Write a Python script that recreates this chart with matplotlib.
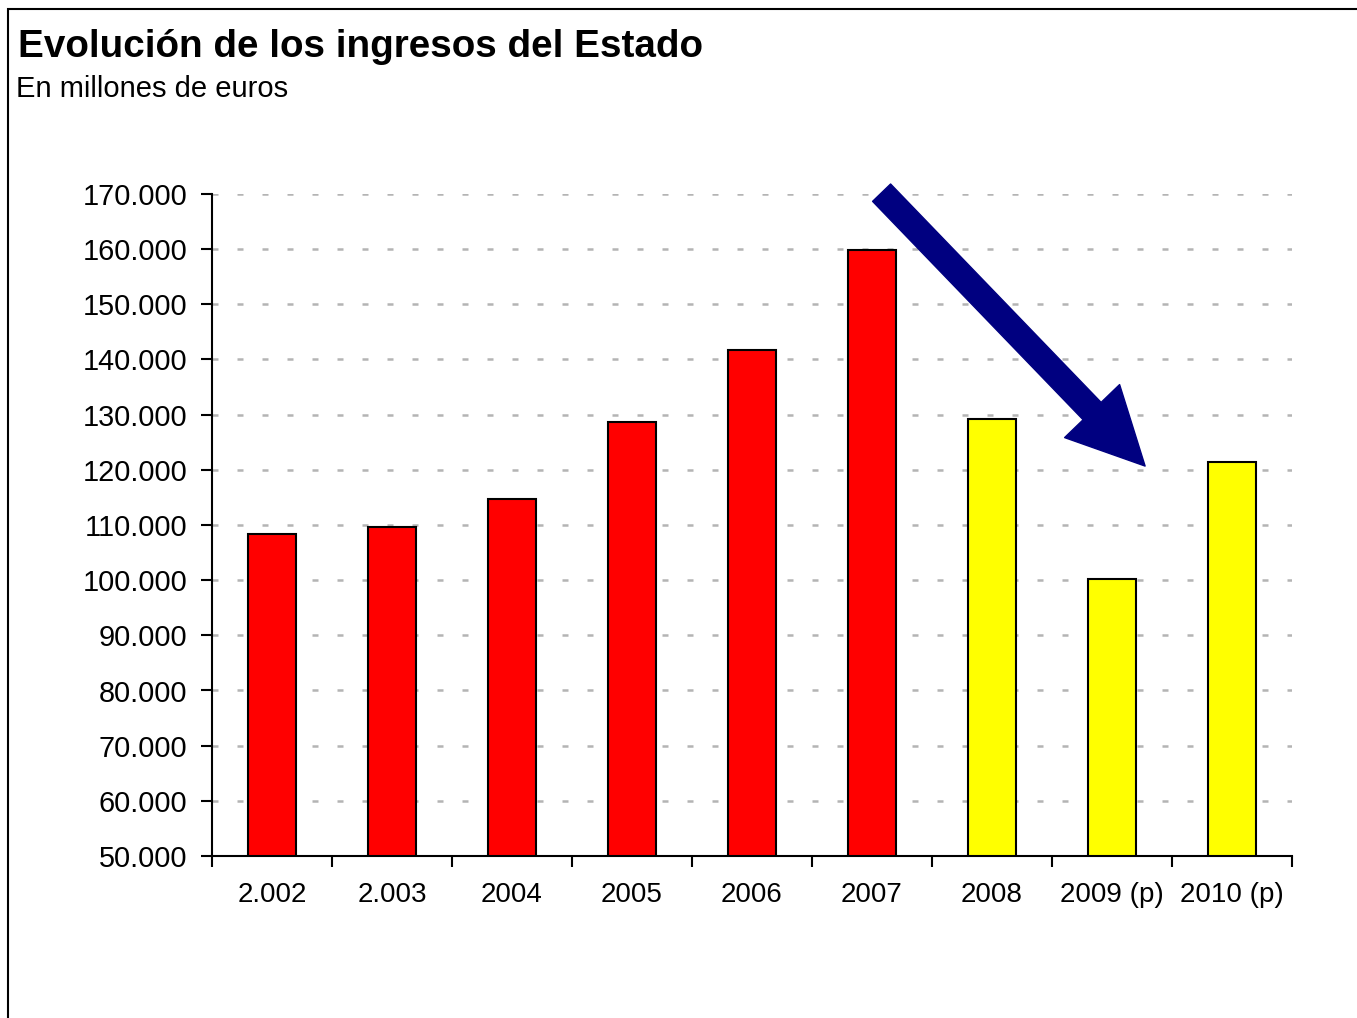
import matplotlib
matplotlib.use("Agg")
import matplotlib.pyplot as plt
import matplotlib.patches as mpatches
from matplotlib.ticker import FuncFormatter, FixedLocator

plt.rcParams['font.family'] = ['Liberation Sans', 'DejaVu Sans']

years = ["2.002", "2.003", "2004", "2005", "2006", "2007", "2008", "2009 (p)", "2010 (p)"]
ingresos = [108400, 109600, 114700, 128700, 141700, 159800, 129200, 100200, 121400]
colores = ["#ff0000"] * 6 + ["#ffff00"] * 3

fig = plt.figure(figsize=(13.57, 10.18), dpi=100)
ax = fig.add_axes([212 / 1357, 1 - 856 / 1018, 1080 / 1357, 662 / 1018])

pos = list(range(len(years)))
ax.bar(pos, [v - 50000 for v in ingresos], bottom=50000, width=0.4,
       color=colores, edgecolor="black", linewidth=1.5, zorder=3)

ax.set_xlim(-0.5, len(years) - 0.5)
ax.set_ylim(50000, 170000)
ax.set_yticks(range(50000, 170001, 10000))
ax.yaxis.set_major_formatter(FuncFormatter(lambda v, p: f"{int(v):,}".replace(",", ".")))

# category boundaries as ticks, labels centered
ax.xaxis.set_major_locator(FixedLocator([i - 0.5 for i in range(len(years) + 1)]))
ax.xaxis.set_minor_locator(FixedLocator(pos))
ax.set_xticklabels([], minor=False)
ax.set_xticklabels(years, minor=True)
ax.tick_params(axis="x", which="major", direction="out", length=8, width=1.5)
ax.tick_params(axis="x", which="minor", length=0, pad=19, labelsize=20)
ax.tick_params(axis="y", direction="out", length=8, width=1.5, pad=10, labelsize=20.8)

for s in ["top", "right"]:
    ax.spines[s].set_visible(False)
for s in ["left", "bottom"]:
    ax.spines[s].set_linewidth(1.5)

for y in range(60000, 170001, 10000):
    ax.axhline(y, color="#b4b4b4", linewidth=1.8, linestyle=(0, (2.4, 7.6)), zorder=1)

# big blue arrow
ax.annotate("", xy=(0.864, 0.589), xycoords="axes fraction",
            xytext=(0.620, 1.002), textcoords="axes fraction",
            arrowprops=dict(arrowstyle="simple,head_length=55,head_width=55,tail_width=18",
                            mutation_scale=1, color="#000080", shrinkA=0, shrinkB=0),
            annotation_clip=False, zorder=5)

fig.text(18 / 1357, 1 - 57 / 1018, "Evolución de los ingresos del Estado",
         fontsize=27.8, fontweight="bold", va="baseline", ha="left")
fig.text(16 / 1357, 1 - 97 / 1018, "En millones de euros",
         fontsize=21, va="baseline", ha="left")

border = mpatches.Rectangle((8 / 1357, -0.05), 1.1, 0.99116 + 0.05, transform=fig.transFigure,
                            fill=False, edgecolor="black", linewidth=1.5, clip_on=False)
fig.patches.append(border)

fig.savefig("out.png", dpi=100)
